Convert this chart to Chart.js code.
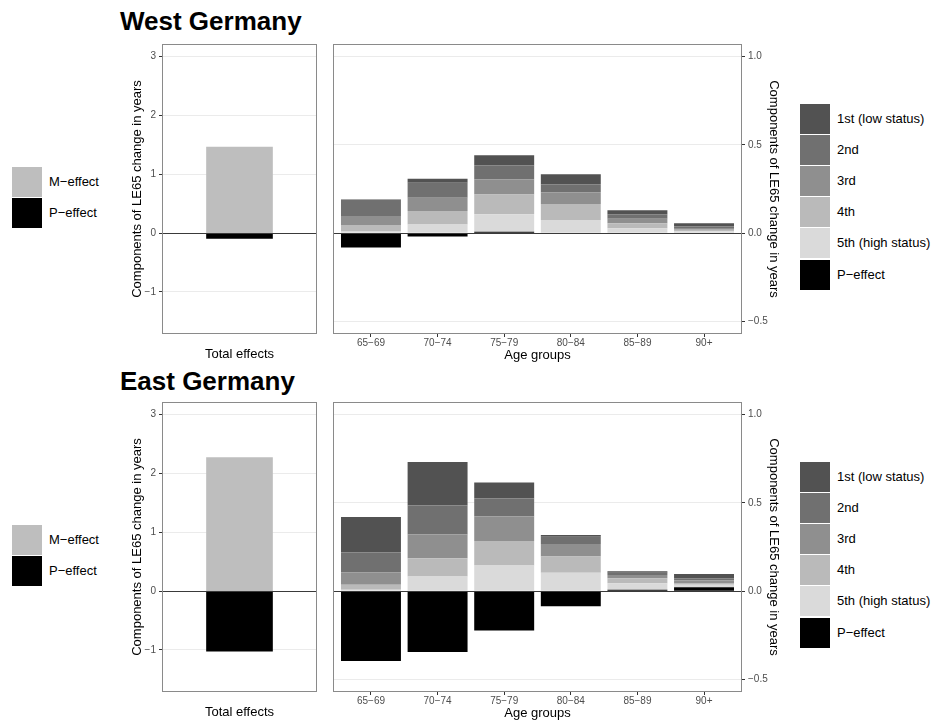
<!DOCTYPE html>
<html lang="en">
<head>
    <meta charset="UTF-8">
    <title>Components of LE65 change</title>
    <script src="https://cdn.jsdelivr.net/npm/chart.js"></script>
    <style>
        body {
            margin: 0;
            background: #fff;
            font-family: "Liberation Sans", Arial, sans-serif;
        }

        #wrap {
            position: relative;
            width: 932px;
            height: 721px;
            overflow: hidden;
        }

        .box {
            position: absolute;
        }

        .title {
            position: absolute;
            left: 120px;
            font-size: 26px;
            font-weight: bold;
            line-height: 30px;
            color: #000;
        }

        .key {
            position: absolute;
            width: 30px;
            height: 30px;
        }

        .keyLabel {
            position: absolute;
            font-size: 13px;
            line-height: 30px;
            color: #000;
            white-space: nowrap;
        }
    </style>
</head>
<body>
<div id="wrap">
    <div class="title" style="top:6px">West Germany</div>
    <div class="title" style="top:366px">East Germany</div>

    <div class="box" style="left:118px;top:44px;width:199px;height:326px"><canvas id="westTotal"></canvas></div>
    <div class="box" style="left:333px;top:44px;width:453px;height:326px"><canvas id="westAge"></canvas></div>
    <div class="box" style="left:118px;top:402px;width:199px;height:326px"><canvas id="eastTotal"></canvas></div>
    <div class="box" style="left:333px;top:402px;width:453px;height:326px"><canvas id="eastAge"></canvas></div>
</div>

<script>
    // 데이터
    const ageGroups = ['65−69', '70−74', '75−79', '80−84', '85−89', '90+'];
    const statusLabels = ['1st (low status)', '2nd', '3rd', '4th', '5th (high status)', 'P−effect'];
    const totalLabels = ['M−effect', 'P−effect'];

    const westTotalM = [1.465];
    const westTotalP = [-0.09];
    const eastTotalM = [2.27];
    const eastTotalP = [-1.02];

    const westFirst  = [0.003, 0.023, 0.057, 0.057, 0.023, 0.019];
    const westSecond = [0.090, 0.085, 0.081, 0.045, 0.025, 0.009];
    const westThird  = [0.051, 0.075, 0.085, 0.066, 0.026, 0.009];
    const westFourth = [0.034, 0.077, 0.111, 0.091, 0.028, 0.009];
    const westFifth  = [0.013, 0.049, 0.100, 0.075, 0.028, 0.011];
    const westP      = [-0.081, -0.019, 0.008, 0.0, 0.0, 0.0];

    const eastFirst  = [0.200, 0.247, 0.091, 0.011, 0.008, 0.025];
    const eastSecond = [0.113, 0.164, 0.102, 0.040, 0.013, 0.013];
    const eastThird  = [0.070, 0.134, 0.138, 0.072, 0.019, 0.013];
    const eastFourth = [0.028, 0.104, 0.140, 0.092, 0.028, 0.011];
    const eastFifth  = [0.009, 0.083, 0.145, 0.104, 0.036, 0.013];
    const eastP      = [-0.396, -0.345, -0.223, -0.085, 0.009, 0.023];

    const totalTicks = [-1, 0, 1, 2, 3];
    const ageTicks = [-0.5, 0, 0.5, 1.0];

    const statusColors = ['#525252', '#707070', '#8f8f8f', '#bababa', '#dadada', '#000000'];
    const totalColors = ['#bebebe', '#000000'];

    Chart.defaults.font.family = '"Liberation Sans", Arial, sans-serif';
    Chart.defaults.animation = false;

    const yTitle = 'Components of LE65 change in years';

    // 패널 테두리와 0 기준선
    const panelPlugin = {
        id: 'panel',
        afterDatasetsDraw(chart) {
            const a = chart.chartArea;
            const ctx = chart.ctx;
            const y0 = Math.round(chart.scales.y.getPixelForValue(0)) + 0.5;
            ctx.save();
            ctx.strokeStyle = '#3a3a3a';
            ctx.lineWidth = 1.2;
            ctx.beginPath();
            ctx.moveTo(a.left, y0);
            ctx.lineTo(a.right, y0);
            ctx.stroke();
            ctx.strokeStyle = '#8a8a8a';
            ctx.lineWidth = 1;
            ctx.strokeRect(a.left + 0.5, a.top + 0.5, a.right - a.left - 1, a.bottom - a.top - 1);
            ctx.restore();
        }
    };

    function fmtTick(v, digits) {
        const s = Math.abs(v).toFixed(digits);
        return v < 0 ? '−' + s : s;
    }

    function makeYAxis(min, max, ticks, digits, position, width, titlePad) {
        return {
            type: 'linear',
            position: position,
            min: min,
            max: max,
            stacked: true,
            afterBuildTicks: scale => { scale.ticks = ticks.map(v => ({ value: v })); },
            afterFit: scale => {
                scale.width = width;
                scale.paddingTop = 0;
                scale.paddingBottom = 0;
            },
            border: { display: false },
            grid: { color: '#ebebeb', tickColor: '#333333', tickLength: 3 },
            ticks: {
                color: '#4d4d4d',
                font: { size: 10 },
                padding: 3,
                callback: v => fmtTick(v, digits)
            },
            title: {
                display: true,
                text: yTitle,
                color: '#000',
                font: { size: 13 },
                padding: { top: titlePad, bottom: 0 }
            }
        };
    }

    function totalChart(id, mVals, pVals) {
        new Chart(document.getElementById(id), {
            type: 'bar',
            data: {
                labels: [''],
                datasets: [
                    { label: totalLabels[1], data: pVals, backgroundColor: totalColors[1] },
                    { label: totalLabels[0], data: mVals, backgroundColor: totalColors[0] }
                ]
            },
            options: {
                responsive: true,
                maintainAspectRatio: false,
                layout: { padding: 0 },
                barThickness: 66,
                plugins: { legend: { display: false }, tooltip: { enabled: false } },
                scales: {
                    x: {
                        stacked: true,
                        afterFit: scale => {
                            scale.height = 36;
                            scale.paddingLeft = 0;
                            scale.paddingRight = 0;
                        },
                        border: { display: false },
                        grid: { display: false },
                        ticks: { display: false },
                        title: {
                            display: true,
                            text: 'Total effects',
                            color: '#000',
                            font: { size: 13 },
                            padding: { top: 0, bottom: 8 }
                        }
                    },
                    y: makeYAxis(-1.714, 3.216, totalTicks, 0, 'left', 44, 12)
                }
            },
            plugins: [panelPlugin]
        });
    }

    function ageChart(id, series) {
        // 아래에서 위로: P-effect, 5th ... 1st
        const order = [5, 4, 3, 2, 1, 0];
        const datasets = order.map(k => ({
            label: statusLabels[k],
            data: ageGroups.map((g, i) => ({ x: i, y: series[k][i] })),
            backgroundColor: statusColors[k],
            barPercentage: 0.9,
            categoryPercentage: 1
        }));

        new Chart(document.getElementById(id), {
            type: 'bar',
            data: { datasets: datasets },
            options: {
                responsive: true,
                maintainAspectRatio: false,
                layout: { padding: 0 },
                plugins: { legend: { display: false }, tooltip: { enabled: false } },
                scales: {
                    x: {
                        type: 'linear',
                        min: -0.57,
                        max: 5.57,
                        offset: false,
                        stacked: true,
                        afterBuildTicks: scale => { scale.ticks = ageGroups.map((g, i) => ({ value: i })); },
                        afterFit: scale => {
                            scale.height = 36;
                            scale.paddingLeft = 0;
                            scale.paddingRight = 0;
                        },
                        border: { display: false },
                        grid: { drawOnChartArea: false, offset: false, color: '#333333', tickLength: 3 },
                        ticks: {
                            color: '#4d4d4d',
                            font: { size: 10 },
                            padding: 0,
                            maxRotation: 0,
                            callback: v => ageGroups[v]
                        },
                        title: {
                            display: true,
                            text: 'Age groups',
                            color: '#000',
                            font: { size: 13 },
                            padding: { top: 0, bottom: 7 }
                        }
                    },
                    y: makeYAxis(-0.571, 1.072, ageTicks, 1, 'right', 44, 5)
                }
            },
            plugins: [panelPlugin]
        });
    }

    // 범례 (HTML)
    function addLegend(labels, colors, left, top, step, labelLeft) {
        const wrap = document.getElementById('wrap');
        labels.forEach((text, i) => {
            const key = document.createElement('div');
            key.className = 'key';
            key.style.left = left + 'px';
            key.style.top = (top + i * step) + 'px';
            key.style.background = colors[i];
            wrap.appendChild(key);

            const lab = document.createElement('div');
            lab.className = 'keyLabel';
            lab.style.left = labelLeft + 'px';
            lab.style.top = (top + i * step) + 'px';
            lab.textContent = text;
            wrap.appendChild(lab);
        });
    }

    totalChart('westTotal', westTotalM, westTotalP);
    totalChart('eastTotal', eastTotalM, eastTotalP);
    ageChart('westAge', [westFirst, westSecond, westThird, westFourth, westFifth, westP]);
    ageChart('eastAge', [eastFirst, eastSecond, eastThird, eastFourth, eastFifth, eastP]);

    addLegend(totalLabels, totalColors, 12, 167, 31, 49);
    addLegend(totalLabels, totalColors, 12, 525, 31, 49);
    addLegend(statusLabels, statusColors, 800, 104, 31.1, 837);
    addLegend(statusLabels, statusColors, 800, 462, 31.1, 837);
</script>
</body>
</html>
